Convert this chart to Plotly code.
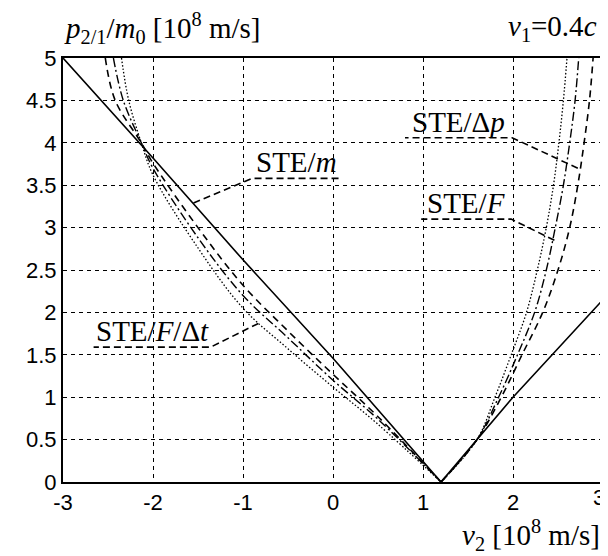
import plotly.graph_objects as go

# ---- data ----
solid_x = [-3.0, -2.0, -1.0, 0.0, 1.2, 2.0, 3.0]
solid_y = [5.0, 3.82, 2.62, 1.46, 0.0, 1.0, 2.15]

dp_x = [-2.53, -2.42, -2.13, -2.0, -1.5, -1.0, -0.5, 0.0, 0.5, 1.2,
        1.6, 1.87, 2.10, 2.33, 2.50, 2.63, 2.72, 2.79, 2.85, 2.89]
dp_y = [5.0, 4.5, 4.0, 3.76, 3.0, 2.32, 1.78, 1.27, 0.77, 0.0,
        0.5, 1.0, 1.5, 2.0, 2.5, 3.0, 3.5, 4.0, 4.5, 5.0]

f_x = [-2.44, -2.33, -2.13, -2.0, -1.5, -1.0, -0.5, 0.0, 0.5, 1.2,
       1.6, 1.84, 2.05, 2.24, 2.37, 2.47, 2.56, 2.63, 2.69, 2.73]
f_y = [5.0, 4.5, 4.0, 3.70, 2.88, 2.20, 1.70, 1.20, 0.74, 0.0,
       0.5, 1.0, 1.5, 2.0, 2.5, 3.0, 3.5, 4.0, 4.5, 5.0]

fdt_x = [-2.35, -2.27, -2.13, -2.0, -1.5, -1.0, -0.5, 0.0, 0.5, 1.2,
         1.6, 1.80, 1.98, 2.15, 2.27, 2.37, 2.45, 2.51, 2.56, 2.60]
fdt_y = [5.0, 4.5, 4.0, 3.62, 2.76, 2.05, 1.57, 1.12, 0.68, 0.0,
         0.5, 1.0, 1.5, 2.0, 2.5, 3.0, 3.5, 4.0, 4.5, 5.0]

x_ticks = [-3, -2, -1, 0, 1, 2, 3]
x_ticklabels = ["-3", "-2", "-1", "0", "1", "2", "3"]
y_ticks = [0, 0.5, 1, 1.5, 2, 2.5, 3, 3.5, 4, 4.5, 5]
y_ticklabels = ["0", "0.5", "1", "1.5", "2", "2.5", "3", "3.5", "4", "4.5", "5"]

labels = ["STE/<i>m</i>", "STE/Δ<i>p</i>", "STE/<i>F</i>", "STE/<i>F</i>/Δ<i>t</i>"]
# leader paths: (end on curve) -> (start of underline) -> (end of underline)
leaders = [
    [(-1.55, 3.29), (-0.90, 3.58), (0.08, 3.58)],
    [(2.72, 3.70), (1.99, 4.06), (0.80, 4.06)],
    [(2.46, 2.85), (1.98, 3.10), (0.98, 3.10)],
    [(-0.83, 1.87), (-1.36, 1.59), (-2.66, 1.59)],
]

VERTEX = 10  # number of points in each curve's left branch (incl. vertex)

fig = go.Figure()
fig.add_trace(go.Scatter(x=solid_x, y=solid_y, mode="lines",
                         line=dict(color="black", width=1.6), hoverinfo="skip"))

styles = [
    (dp_x, dp_y, dict(color="black", width=1.6, dash="7px,5px")),
    (f_x, f_y, dict(color="black", width=1.4, dash="9px,3px,2px,3px")),
    (fdt_x, fdt_y, dict(color="black", width=1.3, dash="1.5px,2px")),
]
for xs, ys, ln in styles:
    fig.add_trace(go.Scatter(x=xs[:VERTEX], y=ys[:VERTEX], mode="lines", line_shape="spline",
                             line=ln, hoverinfo="skip"))
    fig.add_trace(go.Scatter(x=xs[VERTEX - 1:], y=ys[VERTEX - 1:], mode="lines", line_shape="spline",
                             line=ln, hoverinfo="skip"))

serif = "Liberation Serif, Times New Roman, serif"
sans = "Liberation Sans, Arial, sans-serif"
shapes = []
annotations = []
for lab, pts in zip(labels, leaders):
    path = "M {} {} L {} {} L {} {}".format(pts[0][0], pts[0][1], pts[1][0], pts[1][1], pts[2][0], pts[2][1])
    shapes.append(dict(type="path", xref="x", yref="y", path=path,
                       line=dict(color="black", width=1.6, dash="7px,4px")))
    xs = [pts[1][0], pts[2][0]]
    annotations.append(dict(x=(xs[0] + xs[1]) / 2, y=pts[1][1], xref="x", yref="y",
                            text=lab, showarrow=False, xanchor="center", yanchor="bottom",
                            yshift=-2, font=dict(family=serif, size=29, color="black")))

annotations.append(dict(x=-0.002, y=1.07, xref="paper", yref="paper", xanchor="left", yanchor="middle",
                        text="<i>p</i><sub>2/1</sub>/<i>m</i><sub>0</sub> [10<sup>8</sup> m/s]",
                        showarrow=False, font=dict(family=serif, size=29, color="black")))
annotations.append(dict(x=0.993, y=1.07, xref="paper", yref="paper", xanchor="right", yanchor="middle",
                        text="<i>v</i><sub>1</sub>=0.4<i>c</i>",
                        showarrow=False, font=dict(family=serif, size=29, color="black")))
annotations.append(dict(x=0.998, y=-0.125, xref="paper", yref="paper", xanchor="right", yanchor="middle",
                        text="<i>v</i><sub>2</sub> [10<sup>8</sup> m/s]",
                        showarrow=False, font=dict(family=serif, size=29, color="black")))
# last x tick label drawn as text so it stays inside the page edge
annotations.append(dict(x=x_ticks[-1], y=-0.036, xref="x", yref="paper", xanchor="right", yanchor="middle",
                        xshift=4, text=x_ticklabels[-1], showarrow=False,
                        font=dict(family=sans, size=22, color="black")))

axis_common = dict(showgrid=True, gridcolor="black", gridwidth=1, griddash="4px,4px",
                   showline=True, linecolor="black", linewidth=2, mirror=True, automargin=False,
                   zeroline=False, ticks="",
                   tickfont=dict(family=sans, size=22, color="black"))
# page body adds an 8px offset; figure is sized so the plot area lands at the reference position
fig.update_layout(
    width=600, height=548,
    margin=dict(l=55, r=5, t=50, b=74),
    paper_bgcolor="white", plot_bgcolor="white",
    showlegend=False,
    xaxis=dict(range=[-3, 3], tickvals=x_ticks[:-1], ticktext=x_ticklabels[:-1], **axis_common),
    yaxis=dict(range=[0, 5], tickvals=y_ticks, ticktext=y_ticklabels, **axis_common),
    shapes=shapes + [dict(type="line", xref="x", yref="paper", x0=x_ticks[-1], x1=x_ticks[-1],
                          y0=0, y1=1, line=dict(color="black", width=2))],
    annotations=annotations,
)
fig.write_html("out.html")
